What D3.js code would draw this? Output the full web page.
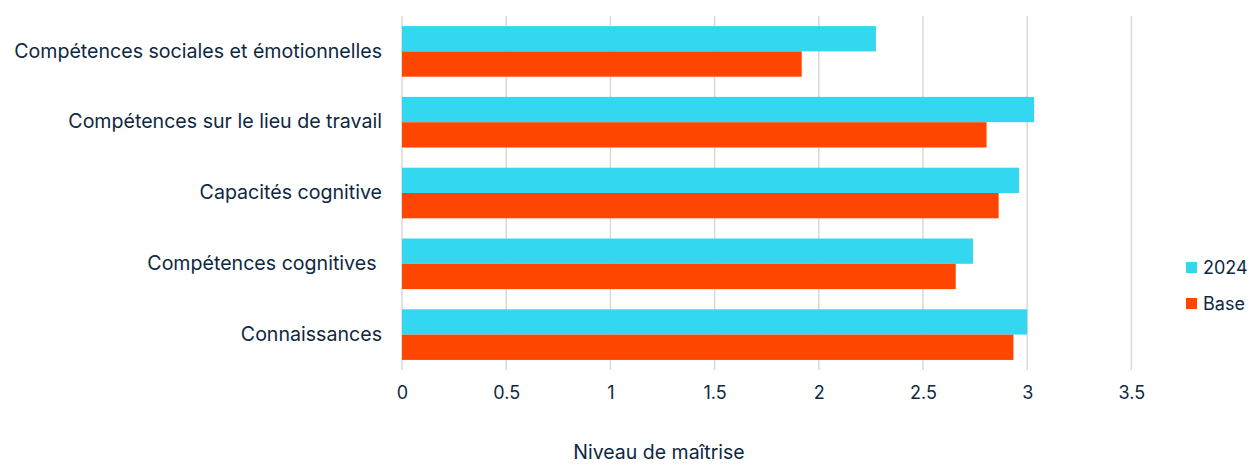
<!DOCTYPE html>
<html><head><meta charset="utf-8">
<script src="https://cdn.jsdelivr.net/npm/d3@7"></script>
<style>body{margin:0;background:#fff;} text{font-family:Inter, "Open Sans", sans-serif;}</style>
</head><body>
<svg id="chart" width="1250" height="466"></svg>
<script>
const categories = ["Compétences sociales et émotionnelles","Compétences sur le lieu de travail","Capacités cognitive","Compétences cognitives ","Connaissances"];
const series = ["2024","Base"];
const values2024 = [2.274, 3.033, 2.961, 2.74, 3.0];
const valuesBase = [1.918, 2.805, 2.863, 2.657, 2.934];
const xTicks = [0, 0.5, 1, 1.5, 2, 2.5, 3, 3.5];
const colors = {"2024":"#33d8f0","Base":"#ff4600"};
const axisTitle = "Niveau de maîtrise";

const svg = d3.select("#chart");
const textColor = "#0e2841";
const x = d3.scaleLinear().domain([0,3.5]).range([402, 1131.4]);
const y = d3.scaleBand().domain(categories).range([16, 370]).paddingInner(0.285).paddingOuter(0.1425);
const ys = d3.scaleBand().domain(series).range([0, y.bandwidth()]);

// gridlines
svg.append("g").selectAll("line").data(xTicks).join("line")
  .attr("x1", d=>x(d)).attr("x2", d=>x(d)).attr("y1", 16).attr("y2", 370)
  .attr("stroke", "#d9d9d9").attr("stroke-width", 1.5);

const data = categories.map((c,i)=>({cat:c, vals:[{s:"2024",v:values2024[i]},{s:"Base",v:valuesBase[i]}]}));
const g = svg.append("g").selectAll("g").data(data).join("g")
  .attr("transform", d=>`translate(0,${y(d.cat)})`);
g.selectAll("rect").data(d=>d.vals).join("rect")
  .attr("x", x(0)).attr("y", d=>ys(d.s)).attr("width", d=>x(d.v)-x(0)).attr("height", ys.bandwidth())
  .attr("fill", d=>colors[d.s]);

// y labels
const yAxis = d3.axisLeft(y).tickSize(0).tickPadding(0);
const ya = svg.append("g").attr("transform","translate(382,0)").call(yAxis);
ya.select(".domain").remove();
ya.selectAll("text").attr("font-size", 19.6).attr("fill", textColor).style("white-space","pre").attr("font-family","Inter, sans-serif");

// x labels
const xAxis = d3.axisBottom(x).tickValues(xTicks).tickSize(0).tickPadding(0).tickFormat(d=>String(d));
const xa = svg.append("g").attr("transform","translate(0,386)").call(xAxis);
xa.select(".domain").remove();
xa.selectAll("text").attr("font-size", 18).attr("fill", textColor).attr("font-family","Inter, sans-serif");

svg.append("text").attr("x", 659).attr("y", 452).attr("dy","0.35em").attr("text-anchor","middle").attr("font-size",19.5).attr("fill",textColor).text(axisTitle);

// legend
const lg = svg.append("g").selectAll("g").data(series).join("g")
  .attr("transform",(d,i)=>`translate(1186,${262 + i*36})`);
lg.append("rect").attr("width",11).attr("height",11).attr("fill",d=>colors[d]);
lg.append("text").attr("x",17).attr("y",5.5).attr("dy","0.35em").attr("font-size",18).attr("fill",textColor).text(d=>d);
</script>
</body></html>
